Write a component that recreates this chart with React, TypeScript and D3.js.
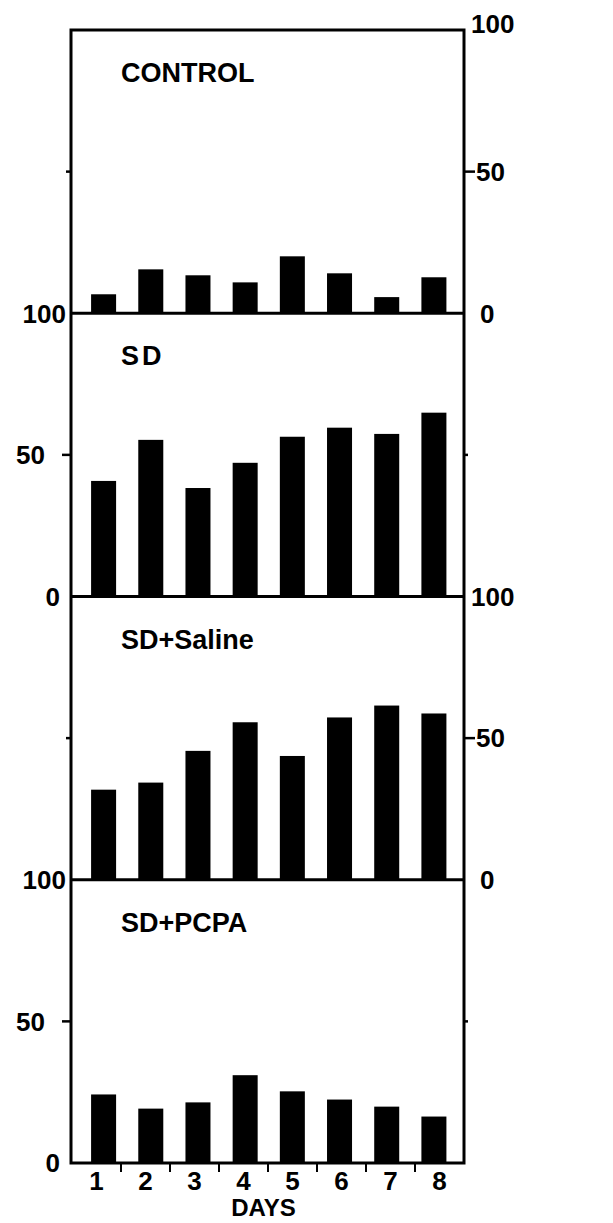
import React, { useEffect, useRef } from 'react'
import * as d3 from 'd3'

const days = ['1', '2', '3', '4', '5', '6', '7', '8']
const panelNames = ['CONTROL', 'SD', 'SD+Saline', 'SD+PCPA']
const controlValues = [6.7, 15.5, 13.4, 10.9, 20.1, 14.1, 5.7, 12.7]
const sdValues = [40.8, 55.3, 38.3, 47.2, 56.4, 59.6, 57.4, 64.9]
const salineValues = [31.8, 34.3, 45.5, 55.6, 43.7, 57.3, 61.5, 58.7]
const pcpaValues = [24.2, 19.2, 21.4, 31.0, 25.3, 22.4, 19.9, 16.4]
const yTicks = [0, 50, 100]
const xLabel = 'DAYS'

const FONT = '"Liberation Sans", Arial, Helvetica, sans-serif'

const App = () => {
  const ref = useRef<SVGSVGElement>(null)

  useEffect(() => {
    const svg = d3.select(ref.current)
    svg.selectAll('*').remove()

    const left = 71
    const right = 464
    const top = 30
    const bottom = 1163
    const panelH = (bottom - top) / panelNames.length

    const series = [controlValues, sdValues, salineValues, pcpaValues]
    const panels = panelNames.map((name, i) => ({
      name,
      values: series[i],
      side: i % 2 === 0 ? 'right' : 'left',
      y0: top + i * panelH,
    }))

    // bars sit a bit inward of the day bands
    const xBar = d3.scaleBand().domain(days).range([80, 457.5]).paddingInner(0.47).paddingOuter(0.235)
    const xAxisScale = d3.scaleBand().domain(days).range([left + 1, right])

    panels.forEach((p, i) => {
      const y = d3.scaleLinear().domain([0, 100]).range([p.y0 + panelH, p.y0])
      const g = svg.append('g')

      g.selectAll('rect')
        .data(p.values)
        .enter()
        .append('rect')
        .attr('x', (d, j) => xBar(days[j]) as number)
        .attr('y', d => y(d))
        .attr('width', xBar.bandwidth())
        .attr('height', d => y(0) - y(d))
        .attr('fill', '#000')

      g.append('text')
        .attr('x', 121)
        .attr('y', p.y0 + 52)
        .attr('font-family', FONT)
        .attr('font-weight', 'bold')
        .attr('font-size', 27)
        .attr('letter-spacing', p.name === 'SD' ? 3 : 0)
        .text(p.name)

      // tick at 50 on both sides
      const labelled = p.side
      const leftLen = labelled === 'left' ? 9 : 5
      const rightLen = labelled === 'right' ? 11 : 4
      g.append('line')
        .attr('x1', left - leftLen).attr('x2', left)
        .attr('y1', y(50)).attr('y2', y(50))
        .attr('stroke', '#000').attr('stroke-width', 2.5)
      g.append('line')
        .attr('x1', right).attr('x2', right + rightLen)
        .attr('y1', y(50)).attr('y2', y(50))
        .attr('stroke', '#000').attr('stroke-width', 2.5)

      g.selectAll('text.tick')
        .data(yTicks)
        .enter()
        .append('text')
        .attr('class', 'tick')
        .attr('x', d => {
          if (labelled === 'left') return d === 50 ? 45 : d === 100 ? 66 : 60
          return d === 50 ? 476 : d === 100 ? 471 : 480
        })
        .attr('y', d => y(d) + (i === 0 && d === 100 ? -6 : 0))
        .attr('dy', '0.36em')
        .attr('text-anchor', labelled === 'left' ? 'end' : 'start')
        .attr('font-family', FONT)
        .attr('font-weight', 'bold')
        .attr('font-size', 26)
        .text(d => String(d))
    })

    // frame and panel dividers
    svg.append('rect')
      .attr('x', left).attr('y', top)
      .attr('width', right - left).attr('height', bottom - top)
      .attr('fill', 'none').attr('stroke', '#000').attr('stroke-width', 3)
    panels.slice(1).forEach(p => {
      svg.append('line')
        .attr('x1', left).attr('x2', right)
        .attr('y1', p.y0).attr('y2', p.y0)
        .attr('stroke', '#000').attr('stroke-width', 3)
    })

    // bottom day axis
    const xg = svg.append('g').attr('transform', `translate(0, ${bottom})`)
    xg.selectAll('line')
      .data(days.slice(1))
      .enter()
      .append('line')
      .attr('x1', d => xAxisScale(d) as number)
      .attr('x2', d => xAxisScale(d) as number)
      .attr('y1', 1).attr('y2', 9)
      .attr('stroke', '#000').attr('stroke-width', 2)
    xg.selectAll('text')
      .data(days)
      .enter()
      .append('text')
      .attr('x', d => (xAxisScale(d) as number) + xAxisScale.bandwidth() / 2)
      .attr('y', 27)
      .attr('text-anchor', 'middle')
      .attr('font-family', FONT)
      .attr('font-weight', 'bold')
      .attr('font-size', 26)
      .text(d => d)

    svg.append('text')
      .attr('x', (left + right) / 2 - 4)
      .attr('y', 1216)
      .attr('text-anchor', 'middle')
      .attr('font-family', FONT)
      .attr('font-weight', 'bold')
      .attr('font-size', 24)
      .text(xLabel)
  }, [])

  return (
    <svg
      ref={ref}
      width={613}
      height={1223}
      style={{ position: 'absolute', left: 0, top: 0, background: '#fff' }}
    ></svg>
  )
}

export default App
